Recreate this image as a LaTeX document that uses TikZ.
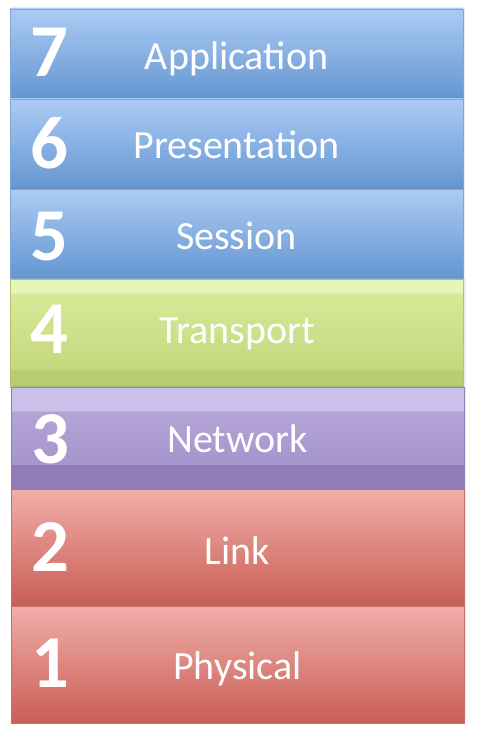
\documentclass[tikz,border=0pt]{standalone}
\usepackage{fontspec}
\setmainfont{Carlito}
\usetikzlibrary{shadows}

\definecolor{blueTop}{RGB}{172,203,245}
\definecolor{blueBot}{RGB}{100,150,208}
\definecolor{blueEdge}{RGB}{125,165,214}
\definecolor{greenA}{RGB}{229,246,187}
\definecolor{greenB}{RGB}{216,232,152}
\definecolor{greenC}{RGB}{196,216,126}
\definecolor{greenD}{RGB}{184,204,114}
\definecolor{greenEdge}{RGB}{176,198,110}
\definecolor{purpA}{RGB}{203,192,233}
\definecolor{purpB}{RGB}{180,164,214}
\definecolor{purpC}{RGB}{166,149,204}
\definecolor{purpD}{RGB}{145,124,184}
\definecolor{purpEdge}{RGB}{146,126,186}
\definecolor{redTop}{RGB}{241,174,170}
\definecolor{redBot}{RGB}{201,94,84}
\definecolor{redEdge}{RGB}{204,110,102}

\pgfdeclareverticalshading{transshade}{100bp}{color(0bp)=(greenD); color(32.9bp)=(greenD); color(32.9bp)=(greenC); color(68.5bp)=(greenB); color(68.5bp)=(greenA); color(100bp)=(greenA)}
\pgfdeclareverticalshading{netshade}{100bp}{color(0bp)=(purpD); color(37.2bp)=(purpD); color(37.2bp)=(purpC); color(63.2bp)=(purpB); color(63.2bp)=(purpA); color(100bp)=(purpA)}

\tikzset{every picture/.style={line width=0.75pt}}
\tikzset{
  layer/.style={rectangle, inner sep=0pt, minimum width=339.75pt, line width=0.5pt,
    drop shadow={opacity=0.15, shadow xshift=1.5pt, shadow yshift=1.5pt}},
  bluelayer/.style={layer, draw=blueEdge, top color=blueTop, bottom color=blueBot},
  redlayer/.style={layer, draw=redEdge, top color=redTop, bottom color=redBot},
  labtxt/.style={anchor=base, inner sep=0pt, text=white, font=\fontsize{30}{36}\selectfont},
  numtxt/.style={anchor=base west, inner sep=0pt, text=white, font=\fontsize{56}{64}\selectfont\bfseries}
}

\begin{document}
\begin{tikzpicture}[x=0.75pt,y=0.75pt,yscale=-1,xscale=1]
\useasboundingbox (0,0) rectangle (478,738);
\fill[white] (0,0) rectangle (478,738);

%Shape: Rectangle [layer 7]
\node [bluelayer, minimum height=67.5pt] (app) at (236.5,54) {};
%Shape: Rectangle [layer 6]
\node [bluelayer, minimum height=67.5pt] (pres) at (236.5,144) {};
%Shape: Rectangle [layer 5]
\node [bluelayer, minimum height=66.75pt] (sess) at (236.5,233.5) {};
%Shape: Rectangle [layer 4]
\node [layer, draw=greenEdge, shading=transshade, minimum height=81pt] (trans) at (237,333) {};
%Shape: Rectangle [layer 3]
\node [layer, draw=purpEdge, shading=netshade, minimum height=76.5pt] (net) at (237.5,438) {};
%Shape: Rectangle [layer 2]
\node [redlayer, minimum height=87.75pt] (link) at (237.5,547.5) {};
%Shape: Rectangle [layer 1]
\node [redlayer, minimum height=87.75pt] (phys) at (237.5,664.5) {};

% Text Node
\node [numtxt] (num7) at ([xshift=15pt,yshift=17pt]app.west) {7};
% Text Node
\node [labtxt] (lab7) at ([yshift=12pt]app.center) {Application};
% Text Node
\node [numtxt] (num6) at ([xshift=15pt,yshift=18pt]pres.west) {6};
% Text Node
\node [labtxt] (lab6) at ([yshift=11pt]pres.center) {Presentation};
% Text Node
\node [numtxt] (num5) at ([xshift=15pt,yshift=20pt]sess.west) {5};
% Text Node
\node [labtxt] (lab5) at ([yshift=12pt]sess.center) {Session};
% Text Node
\node [numtxt] (num4) at ([xshift=15pt,yshift=15pt]trans.west) {4};
% Text Node
\node [labtxt] (lab4) at ([yshift=8pt]trans.center) {Transport};
% Text Node
\node [numtxt] (num3) at ([xshift=15pt,yshift=19pt]net.west) {3};
% Text Node
\node [labtxt] (lab3) at ([yshift=11pt]net.center) {Network};
% Text Node
\node [numtxt] (num2) at ([xshift=15pt,yshift=18pt]link.west) {2};
% Text Node
\node [labtxt] (lab2) at ([yshift=13pt]link.center) {Link};
% Text Node
\node [numtxt] (num1) at ([xshift=15pt,yshift=17.5pt]phys.west) {1};
% Text Node
\node [labtxt] (lab1) at ([yshift=11.5pt]phys.center) {Physical};

\end{tikzpicture}
\end{document}
